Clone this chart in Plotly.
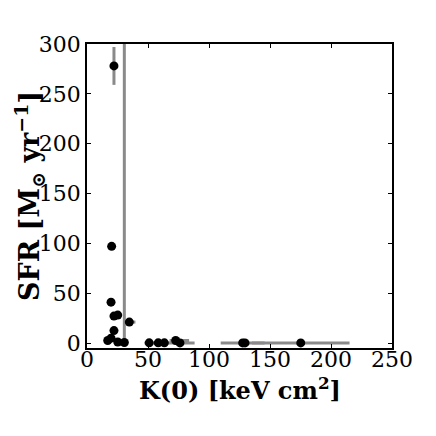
import plotly.graph_objects as go

# K(0) entropy values [keV cm^2] and star formation rate [Msun/yr]
k0 = [20.2, 22.1, 19.7, 22.1, 25.2, 34.7, 22.1, 17.0, 19.7, 25.2,
      30.6, 51.0, 58.4, 63.4, 72.7, 76.2, 127.6, 129.5, 175.2]
sfr = [97, 278, 41, 27, 28, 21, 12.5, 2.5, 4.9, 1.0,
       0.5, 0.2, 0.2, 0.2, 2.5, 0.1, 0.1, 0.1, 0.1]
k0_err_plus = [0, 0, 0, 0, 0, 5, 0, 0, 0, 0,
               0, 0, 0, 0, 11, 12, 18, 0, 40]
k0_err_minus = [0, 0, 0, 0, 0, 5, 0, 0, 0, 0,
                0, 0, 0, 0, 5, 29, 18, 0, 40]
sfr_err_plus = [0, 19, 0, 0, 0, 0, 0, 0, 0, 0,
                500, 0, 0, 0, 0, 0, 0, 0, 0]
sfr_err_minus = [0, 19, 0, 0, 0, 0, 0, 0, 0, 0,
                 4, 0, 0, 0, 0, 0, 0, 0, 0]

x_ticks = [0, 50, 100, 150, 200, 250]
y_ticks = [0, 50, 100, 150, 200, 250, 300]
x_label = "<b>K(0) [keV cm<sup>2</sup>]</b>"
y_label = "<b>SFR [M<sub>⊙</sub> yr<sup>−1</sup>]</b>"

font = "DejaVu Serif"

fig = go.Figure()

fig.add_trace(go.Scatter(
    x=k0, y=sfr, mode="markers",
    marker=dict(color="black", size=9),
    error_x=dict(type="data", symmetric=False, array=k0_err_plus,
                 arrayminus=k0_err_minus, color="#8a8a8a", thickness=3, width=0),
    error_y=dict(type="data", symmetric=False, array=sfr_err_plus,
                 arrayminus=sfr_err_minus, color="#8a8a8a", thickness=3, width=0),
    showlegend=False,
))

# page body has an 8px margin, so margins are shifted to land the axes box right
fig.update_layout(
    width=436, height=436,
    margin=dict(l=79, r=52, t=36, b=96),
    plot_bgcolor="white", paper_bgcolor="white",
    font=dict(family=font, color="black", size=22),
)

axis_style = dict(
    showgrid=False, zeroline=False, showline=True, linecolor="black",
    linewidth=1.5, mirror="ticks", ticks="inside", ticklen=4,
    tickcolor="black", tickfont=dict(family=font, size=22),
    automargin=False,
)

fig.update_xaxes(range=[0, 250], tickvals=x_ticks, ticklabelstandoff=-9,
                 **axis_style)
fig.update_yaxes(range=[-5, 300], tickvals=y_ticks, **axis_style)

# axis titles as annotations for exact placement
fig.add_annotation(text=x_label, xref="paper", yref="paper", x=0.5, y=0,
                   yshift=-41, xanchor="center", yanchor="middle",
                   showarrow=False, font=dict(family=font, size=24))
fig.add_annotation(text=y_label, xref="paper", yref="paper", x=0, y=0.5,
                   xshift=-58, xanchor="center", yanchor="middle",
                   textangle=-90, showarrow=False,
                   font=dict(family=font, size=27))

fig.write_html("out.html")
